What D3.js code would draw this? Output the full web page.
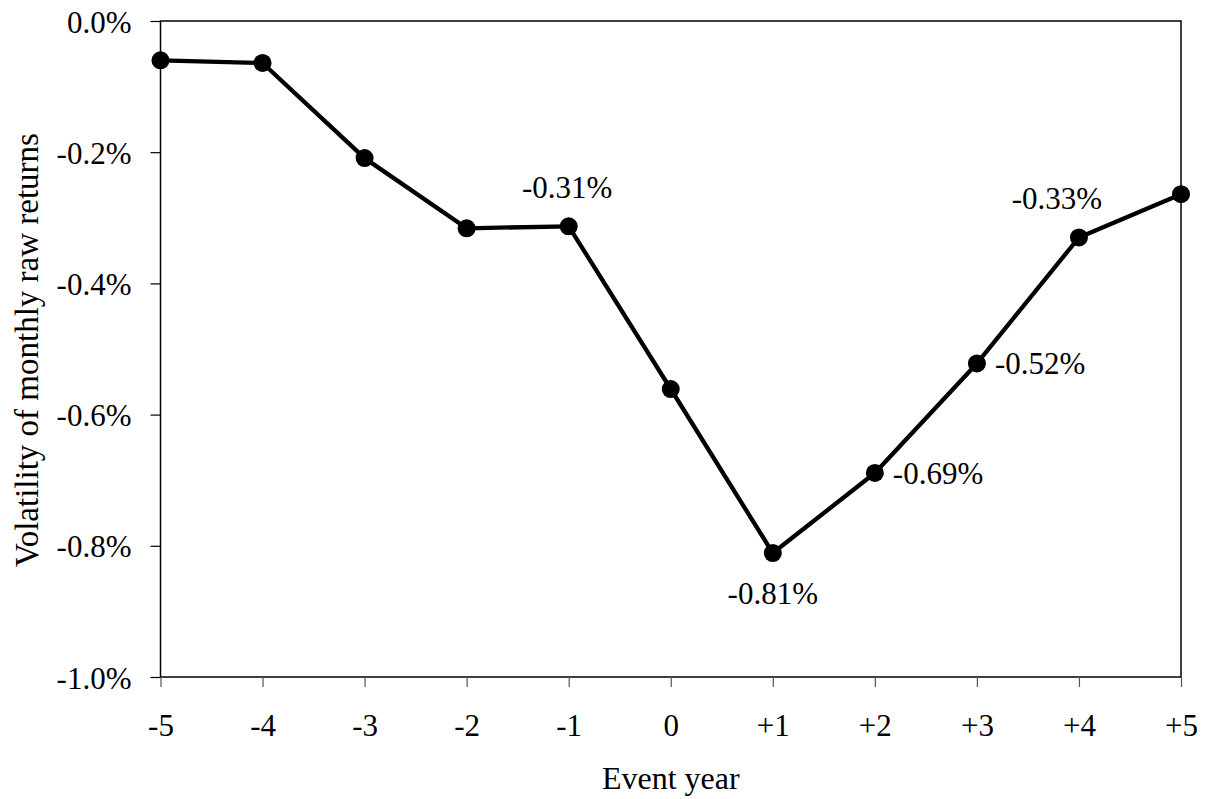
<!DOCTYPE html>
<html><head><meta charset="utf-8">
<script src="https://cdn.jsdelivr.net/npm/d3@7"></script>
</head><body style="margin:0;background:#fff"><svg id="c" width="1208" height="799"></svg>
<script>
const categories = ["-5","-4","-3","-2","-1","0","+1","+2","+3","+4","+5"];
const values = [-0.060,-0.064,-0.209,-0.316,-0.313,-0.561,-0.811,-0.689,-0.522,-0.330,-0.264];
const yTicks = [0,-0.2,-0.4,-0.6,-0.8,-1.0];
const yTickLabels = ["0.0%","-0.2%","-0.4%","-0.6%","-0.8%","-1.0%"];
const annotations = [
  {cat:"-1", text:"-0.31%", pos:"above"},
  {cat:"+1", text:"-0.81%", pos:"below"},
  {cat:"+2", text:"-0.69%", pos:"right"},
  {cat:"+3", text:"-0.52%", pos:"right"},
  {cat:"+4", text:"-0.33%", pos:"aboveLeft"}
];
const xTitle = "Event year";
const yTitle = "Volatility of monthly raw returns";

const FONT = "Liberation Serif";
const svg = d3.select("#c").style("font-family", FONT);
const m = {l:160.5, r:1181, t:21, b:677};
const x = d3.scalePoint().domain(categories).range([m.l, m.r]);
const y = d3.scaleLinear().domain([-1.0, 0]).range([m.b, m.t]);
const fs = 31;

// frame
svg.append("rect").attr("x",m.l).attr("y",m.t).attr("width",m.r-m.l).attr("height",m.b-m.t)
  .attr("fill","none").attr("stroke","#000").attr("stroke-width",1.5);

// y axis
const ya = svg.append("g").attr("transform",`translate(${m.l},0)`)
  .call(d3.axisLeft(y).tickValues(yTicks).tickSize(10).tickPadding(19)
    .tickFormat((d,i)=>yTickLabels[i]));
ya.attr("font-family", FONT).attr("font-size", fs);
ya.select(".domain").remove();
ya.selectAll(".tick line").attr("stroke","#000").attr("stroke-width",1.2);
ya.selectAll(".tick text").attr("font-family",FONT).attr("font-size",fs).attr("fill","#000")
  .attr("dy",null).attr("y",11);

// x axis
const xa = svg.append("g").attr("transform",`translate(0,${m.b})`)
  .call(d3.axisBottom(x).tickSize(10));
xa.attr("font-family", FONT).attr("font-size", fs);
xa.select(".domain").remove();
xa.selectAll(".tick line").attr("stroke","#555").attr("stroke-width",1.2);
xa.selectAll(".tick text").attr("font-family",FONT).attr("font-size",fs).attr("fill","#000")
  .attr("dy",null).attr("y",59);

// titles
svg.append("text").attr("x",(m.l+m.r)/2).attr("y",789).attr("text-anchor","middle")
  .attr("font-family",FONT).attr("font-size",32).text(xTitle);
svg.append("text").attr("transform",`translate(38,350) rotate(-90)`)
  .attr("text-anchor","middle").attr("font-family",FONT).attr("font-size",33).text(yTitle);

// line
const data = categories.map((c,i)=>({c, v:values[i]}));
svg.append("path").datum(data)
  .attr("d", d3.line().x(d=>x(d.c)).y(d=>y(d.v)))
  .attr("fill","none").attr("stroke","#000").attr("stroke-width",4.3).attr("stroke-linejoin","round");
svg.selectAll("circle.pt").data(data).join("circle").attr("class","pt")
  .attr("cx",d=>x(d.c)).attr("cy",d=>y(d.v)).attr("r",9).attr("fill","#000");

// annotations
const lookup = Object.fromEntries(data.map(d=>[d.c,d.v]));
annotations.forEach(a=>{
  const px = x(a.cat), py = y(lookup[a.cat]);
  let tx=px, ty=py, anchor="middle";
  if(a.pos==="above"){tx=px-1.5; ty=py-28;}
  else if(a.pos==="below"){ty=py+51;}
  else if(a.pos==="right"){tx=px+18; ty=py+11; anchor="start";}
  else if(a.pos==="aboveLeft"){tx=px-22; ty=py-28.5;}
  svg.append("text").attr("x",tx).attr("y",ty).attr("text-anchor",anchor)
    .attr("font-family",FONT).attr("font-size",fs).text(a.text);
});
</script></body></html>
